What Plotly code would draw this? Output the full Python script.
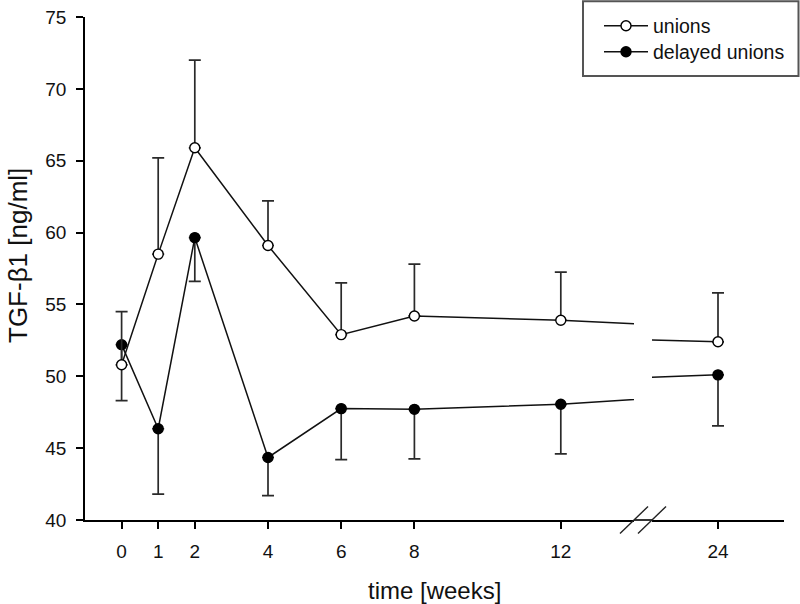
import plotly.graph_objects as go

# ---- data ----
weeks = [0, 1, 2, 4, 6, 8, 12, 24]
unions = [50.8, 58.5, 65.9, 59.1, 52.9, 54.2, 53.9, 52.4]
unions_err = [3.7, 6.7, 6.1, 3.1, 3.6, 3.6, 3.35, 3.4]
delayed = [52.2, 46.35, 59.65, 44.35, 47.75, 47.7, 48.05, 50.1]
delayed_err = [3.9, 4.55, 3.05, 2.65, 3.55, 3.45, 3.45, 3.55]
x_ticks_left = [0, 1, 2, 4, 6, 8, 12]
x_ticks_right = [24]
y_ticks = [40, 45, 50, 55, 60, 65, 70, 75]

FONT = "Liberation Sans, Arial, sans-serif"
zeros = [0] * len(weeks)

W, H = 800, 604
L, R, T, B = 85, 16, 17, 84
pw = W - L - R            # 699
ph = H - T - B            # 503
PLOT_LEFT, PLOT_BOTTOM = L, H - B


def px(xw):
    """window x pixel -> paper x"""
    return (xw - PLOT_LEFT) / pw


def py(yw):
    """window y pixel -> paper y"""
    return (PLOT_BOTTOM - yw) / ph


fig = go.Figure()

for xa, show in (("x", True), ("x2", False)):
    # delayed unions first so that open circles sit above its error bars
    fig.add_trace(go.Scatter(
        x=weeks, y=delayed, xaxis=xa, yaxis="y",
        mode="lines+markers", name="delayed unions", showlegend=show,
        legend="legend2",
        line=dict(color="#111111", width=1.5),
        marker=dict(symbol="circle", size=10, color="#000000",
                    line=dict(color="#000000", width=1.4)),
        error_y=dict(type="data", symmetric=False, array=zeros,
                     arrayminus=delayed_err, color="#2a2a2a",
                     thickness=1.7, width=6),
    ))
    fig.add_trace(go.Scatter(
        x=weeks, y=unions, xaxis=xa, yaxis="y",
        mode="lines+markers", name="unions", showlegend=show,
        legend="legend",
        line=dict(color="#111111", width=1.5),
        marker=dict(symbol="circle", size=10, color="#ffffff",
                    line=dict(color="#000000", width=1.4)),
        error_y=dict(type="data", symmetric=False, array=unions_err,
                     arrayminus=zeros, color="#2a2a2a",
                     thickness=1.7, width=6),
    ))

d1_end = px(634)
d2_start = px(652)

axis_common = dict(
    showgrid=False, zeroline=False, showline=True, linecolor="#000000",
    linewidth=1.6, ticks="outside", ticklen=7, tickwidth=1.6,
    tickcolor="#000000", tickfont=dict(family=FONT, size=19, color="#111111"),
    mirror=False,
)

leg_common = dict(
    xanchor="left", yanchor="middle",
    bgcolor="rgba(0,0,0,0)", borderwidth=0,
    font=dict(family=FONT, size=19.5, color="#111111"),
    itemwidth=44,
)

fig.update_layout(
    width=W, height=H,
    margin=dict(l=L, r=R, t=T, b=B, pad=0, autoexpand=False),
    paper_bgcolor="#ffffff", plot_bgcolor="#ffffff",
    font=dict(family=FONT, color="#111111"),
    xaxis=dict(domain=[0, d1_end], range=[-1, 14], tickmode="array",
               tickvals=x_ticks_left, ticktext=[str(v) for v in x_ticks_left],
               anchor="y", ticklabelstandoff=6, **axis_common),
    xaxis2=dict(domain=[d2_start, 1], range=[23, 25], tickmode="array",
                tickvals=x_ticks_right, ticktext=[str(v) for v in x_ticks_right],
                anchor="y", ticklabelstandoff=6, **axis_common),
    yaxis=dict(range=[40, 75], tickmode="array", tickvals=y_ticks,
               ticktext=[str(v) for v in y_ticks], ticklabelstandoff=6,
               **axis_common),
    showlegend=True,
    legend=dict(x=px(599), y=py(26), **leg_common),
    legend2=dict(x=px(599), y=py(52), **leg_common),
)

# legend frame
fig.add_shape(type="rect", xref="paper", yref="paper",
              x0=px(583), x1=px(798.5), y0=py(76), y1=py(1.2),
              line=dict(color="#555555", width=2), fillcolor="rgba(0,0,0,0)",
              layer="above")

# axis line across the break gap
fig.add_shape(type="line", xref="paper", yref="paper",
              x0=d1_end, x1=d2_start, y0=0, y1=0,
              line=dict(color="#000000", width=1.6))

# break marks (two slashes)
sx = 14 / pw
sy = 13.5 / ph
for cx in (d1_end, d2_start):
    fig.add_shape(type="line", xref="paper", yref="paper",
                  x0=cx - sx, x1=cx + sx, y0=-sy, y1=sy,
                  line=dict(color="#222222", width=1.4))

# axis titles
fig.add_annotation(text="time [weeks]", xref="paper", yref="paper",
                   x=px(434), y=py(590),
                   xanchor="center", yanchor="middle", showarrow=False,
                   font=dict(family=FONT, size=24, color="#111111"))
fig.add_annotation(text="TGF-β1 [ng/ml]", xref="paper", yref="paper",
                   x=px(18), y=py(256), textangle=-90,
                   xanchor="center", yanchor="middle", showarrow=False,
                   font=dict(family=FONT, size=26, color="#111111"))

# the page body default margin would shift the figure; remove it
fig.write_html("out.html", config={"displayModeBar": False},
               post_script="document.body.style.margin='0';")
